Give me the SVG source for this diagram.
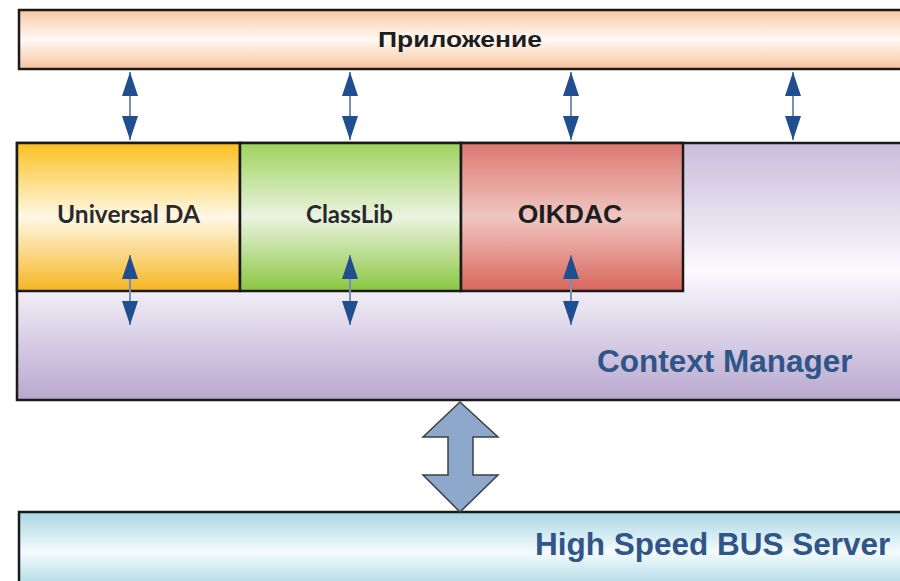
<svg xmlns="http://www.w3.org/2000/svg" width="900" height="581" viewBox="0 0 900 581">
<style>
  .box { stroke: #1a1a1a; stroke-width: 2.5; }
  .lbl { font-family: "Liberation Sans", Arial, sans-serif; font-weight: bold; fill: #1e1e1e; }
  .lbl2 { font-family: Lato, "Open Sans", sans-serif; font-weight: bold; fill: #2a2a2a; }
  .big { font-family: "Liberation Sans", Arial, sans-serif; font-weight: bold; fill: #2f5589; font-size: 31.5px; }
  .conn { stroke: #7b8fb3; stroke-width: 2; fill: none; marker-start: url(#h2); marker-end: url(#h2); }
</style>
<defs>
  <linearGradient id="gTop" x1="0" y1="0" x2="0" y2="1">
    <stop offset="0" stop-color="#f8c7a1"/>
    <stop offset="0.5" stop-color="#fffaf6"/>
    <stop offset="1" stop-color="#f8c39c"/>
  </linearGradient>
  <linearGradient id="gCM" x1="0" y1="0" x2="0" y2="1">
    <stop offset="0" stop-color="#c9bddb"/>
    <stop offset="0.5" stop-color="#fbfafd"/>
    <stop offset="1" stop-color="#b8a8cf"/>
  </linearGradient>
  <linearGradient id="gUDA" x1="0" y1="0" x2="0" y2="1">
    <stop offset="0" stop-color="#fbc01f"/>
    <stop offset="0.5" stop-color="#fff8e6"/>
    <stop offset="1" stop-color="#f6b521"/>
  </linearGradient>
  <linearGradient id="gCL" x1="0" y1="0" x2="0" y2="1">
    <stop offset="0" stop-color="#9ed35c"/>
    <stop offset="0.5" stop-color="#eaf4e0"/>
    <stop offset="1" stop-color="#8bc640"/>
  </linearGradient>
  <linearGradient id="gOI" x1="0" y1="0" x2="0" y2="1">
    <stop offset="0" stop-color="#dc7870"/>
    <stop offset="0.5" stop-color="#f0c6c1"/>
    <stop offset="1" stop-color="#d8665d"/>
  </linearGradient>
  <linearGradient id="gBus" x1="0" y1="0" x2="0" y2="1">
    <stop offset="0" stop-color="#a7d6e4"/>
    <stop offset="0.5" stop-color="#f4fbfd"/>
    <stop offset="1" stop-color="#a4d4e2"/>
  </linearGradient>
  <marker id="h2" markerUnits="userSpaceOnUse" markerWidth="24" markerHeight="16" viewBox="0 0 24 16" refX="24" refY="8" orient="auto-start-reverse">
    <path d="M0,0 L24,8 L0,16 Z" fill="#1f4f8f"/>
  </marker>
</defs>

<g id="app">
  <rect class="box" x="19" y="10" width="900" height="59" fill="url(#gTop)"/>
  <text class="lbl" x="460" y="47" font-size="22" text-anchor="middle" textLength="164" lengthAdjust="spacingAndGlyphs">Приложение</text>
</g>

<g id="context-manager">
  <rect class="box" x="17" y="143" width="900" height="257" fill="url(#gCM)"/>
  <text class="big" x="597" y="372">Context Manager</text>
</g>

<g id="universal-da">
  <rect class="box" x="17" y="143" width="223" height="148" fill="url(#gUDA)"/>
  <text class="lbl2" x="128.5" y="223" font-size="24.5" text-anchor="middle">Universal DA</text>
</g>

<g id="classlib">
  <rect class="box" x="240" y="143" width="221" height="148" fill="url(#gCL)"/>
  <text class="lbl2" x="349.5" y="223" font-size="24" text-anchor="middle">ClassLib</text>
</g>

<g id="oikdac">
  <rect class="box" x="461" y="143" width="222" height="148" fill="url(#gOI)"/>
  <text class="lbl" x="570" y="223" font-size="26.5" text-anchor="middle">OIKDAC</text>
</g>

<g id="bus">
  <rect class="box" x="19" y="512" width="900" height="80" fill="url(#gBus)"/>
  <text class="big" x="535" y="555">High Speed BUS Server</text>
</g>

<g id="connectors">
  <line class="conn" x1="130" y1="72" x2="130" y2="140"/>
  <line class="conn" x1="350" y1="72" x2="350" y2="140"/>
  <line class="conn" x1="571" y1="72" x2="571" y2="140"/>
  <line class="conn" x1="793" y1="72" x2="793" y2="140"/>
  <line class="conn" x1="130" y1="255" x2="130" y2="325"/>
  <line class="conn" x1="350" y1="255" x2="350" y2="325"/>
  <line class="conn" x1="571" y1="255" x2="571" y2="325"/>
  <polygon points="460,402 498,437 473,437 473,475 498,475 460,512 423,475 448,475 448,437 423,437" fill="#8ea8cb" stroke="#3a3f48" stroke-width="1.5" stroke-linejoin="miter"/>
</g>
</svg>
